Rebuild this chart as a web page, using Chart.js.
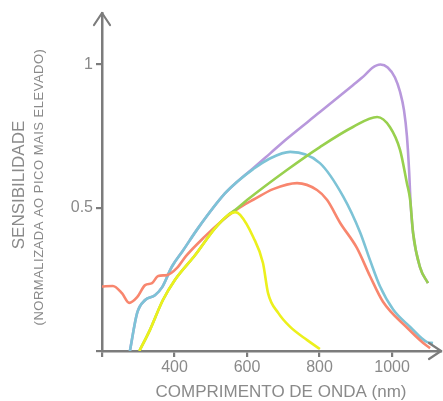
<!DOCTYPE html>
<html>
<head>
<meta charset="utf-8">
<script src="https://cdn.jsdelivr.net/npm/chart.js@4/dist/chart.umd.min.js"></script>
<style>
  html, body { margin: 0; padding: 0; background: #fff; }
  #wrap { width: 443px; height: 401px; }
</style>
</head>
<body>
<div id="wrap"><canvas id="grafico" width="443" height="401"></canvas></div>
<script>
/* valores: comprimento de onda (nm) e sensibilidade */
var xTicks = [200, 400, 600, 800, 1000];
var yTicks = [0, 0.5, 1];

var roxoX = [277, 297, 319, 346, 366, 393, 423, 465, 539, 572, 617, 664, 710, 801, 892, 925, 945, 968, 988, 1008, 1022, 1033, 1041, 1047, 1051, 1058, 1077, 1099];
var roxoY = [0, 0.133, 0.178, 0.195, 0.223, 0.295, 0.35, 0.429, 0.55, 0.59, 0.638, 0.69, 0.741, 0.834, 0.928, 0.963, 0.988, 1.0, 0.99, 0.955, 0.905, 0.84, 0.75, 0.63, 0.52, 0.412, 0.293, 0.237];

var azulX = [277, 297, 319, 346, 366, 393, 423, 465, 539, 572, 617, 663, 719, 801, 865, 912, 939, 967, 1003, 1050, 1097, 1113];
var azulY = [0, 0.133, 0.178, 0.195, 0.223, 0.295, 0.35, 0.429, 0.55, 0.59, 0.635, 0.672, 0.695, 0.656, 0.54, 0.414, 0.318, 0.225, 0.145, 0.084, 0.031, 0.028];

var verdeX = [303, 332, 368, 401, 457, 512, 548, 567, 600, 710, 801, 892, 959, 994, 1022, 1041, 1050, 1058, 1077, 1099];
var verdeY = [0, 0.073, 0.178, 0.248, 0.335, 0.429, 0.475, 0.492, 0.527, 0.632, 0.712, 0.782, 0.817, 0.782, 0.702, 0.586, 0.527, 0.412, 0.293, 0.237];

var vermelhoX = [200, 230, 255, 275, 297, 319, 338, 355, 379, 407, 432, 484, 531, 559, 595, 617, 672, 738, 793, 821, 857, 903, 939, 975, 1041, 1086, 1105];
var vermelhoY = [0.225, 0.227, 0.202, 0.168, 0.188, 0.230, 0.237, 0.262, 0.265, 0.29, 0.332, 0.40, 0.455, 0.483, 0.513, 0.528, 0.565, 0.586, 0.562, 0.527, 0.447, 0.36, 0.262, 0.172, 0.082, 0.028, 0.010];

var amareloX = [303, 332, 368, 401, 457, 512, 548, 567, 581, 617, 644, 658, 686, 719, 766, 801];
var amareloY = [0, 0.073, 0.178, 0.248, 0.335, 0.429, 0.475, 0.485, 0.475, 0.398, 0.307, 0.202, 0.133, 0.084, 0.038, 0.007];

var corEixo = '#7c7c7c';
var corTexto = '#8a8a8a';

function pontos(xs, ys) {
    return xs.map(function (x, i) { return { x: x, y: ys[i] }; });
}

function serie(xs, ys, cor) {
    return {
        data: pontos(xs, ys),
        borderColor: cor,
        borderWidth: 2.6,
        pointRadius: 0,
        fill: false,
        cubicInterpolationMode: 'monotone'
    };
}

/* setas dos eixos e titulos */
var extras = {
    id: 'extras',
    afterDraw: function (chart) {
        var ctx = chart.ctx;
        var a = chart.chartArea;
        ctx.save();
        ctx.strokeStyle = corEixo;
        ctx.lineWidth = 2.2;
        ctx.lineCap = 'round';
        ctx.lineJoin = 'round';
        ctx.beginPath();
        ctx.moveTo(a.left - 8, a.top + 12);
        ctx.lineTo(a.left, a.top);
        ctx.lineTo(a.left + 8, a.top + 12);
        ctx.moveTo(a.right - 12, a.bottom - 8);
        ctx.lineTo(a.right, a.bottom);
        ctx.lineTo(a.right - 12, a.bottom + 8);
        ctx.stroke();

        ctx.fillStyle = corTexto;
        ctx.textAlign = 'center';
        ctx.textBaseline = 'middle';
        ctx.font = '17px "Liberation Sans", Arial, sans-serif';
        ctx.fillText('COMPRIMENTO DE ONDA (nm)', 281, 392);

        ctx.save();
        ctx.translate(19, 185);
        ctx.rotate(-Math.PI / 2);
        ctx.fillText('SENSIBILIDADE', 0, 0);
        ctx.restore();

        ctx.save();
        ctx.translate(39, 187);
        ctx.rotate(-Math.PI / 2);
        ctx.font = '13px "Liberation Sans", Arial, sans-serif';
        ctx.letterSpacing = '0.5px';
        ctx.fillText('(NORMALIZADA AO PICO MAIS ELEVADO)', 0, 0);
        ctx.restore();
        ctx.restore();
    }
};

var marco = document.getElementById('grafico').getContext('2d');

var grafico = new Chart(marco, {
    type: 'line',
    data: {
        datasets: [
            serie(amareloX, amareloY, '#ecf01c'),
            serie(verdeX, verdeY, '#98d04e'),
            serie(vermelhoX, vermelhoY, '#f8866e'),
            serie(azulX, azulY, '#7dc3d6'),
            serie(roxoX, roxoY, '#b898dc')
        ]
    },
    options: {
        responsive: false,
        animation: false,
        devicePixelRatio: 1,
        layout: { padding: { top: 13, right: 2, left: 0, bottom: 0 } },
        plugins: {
            legend: { display: false },
            tooltip: { enabled: false }
        },
        scales: {
            x: {
                type: 'linear',
                min: 200,
                max: 1135,
                afterBuildTicks: function (s) { s.ticks = xTicks.map(function (v) { return { value: v }; }); },
                afterFit: function (s) { s.height = 50; },
                grid: { drawOnChartArea: false, tickLength: 6, color: corEixo, lineWidth: 2.2 },
                border: { color: corEixo, width: 2.5 },
                ticks: {
                    color: corTexto,
                    padding: 1,
                    maxRotation: 0,
                    autoSkip: false,
                    font: { family: '"Liberation Sans", Arial, sans-serif', size: 16 },
                    callback: function (v) { return v === 200 ? '' : String(v); }
                }
            },
            y: {
                min: 0,
                max: 1.18,
                afterBuildTicks: function (s) { s.ticks = yTicks.map(function (v) { return { value: v }; }); },
                afterFit: function (s) { s.width = 102; },
                grid: { drawOnChartArea: false, tickLength: 6, color: corEixo, lineWidth: 2.2 },
                border: { color: corEixo, width: 2.5 },
                ticks: {
                    color: corTexto,
                    padding: 3,
                    font: { family: '"Liberation Sans", Arial, sans-serif', size: 16 },
                    callback: function (v) { return v === 0 ? '' : String(v); }
                }
            }
        }
    },
    plugins: [extras]
});
</script>
</body>
</html>
